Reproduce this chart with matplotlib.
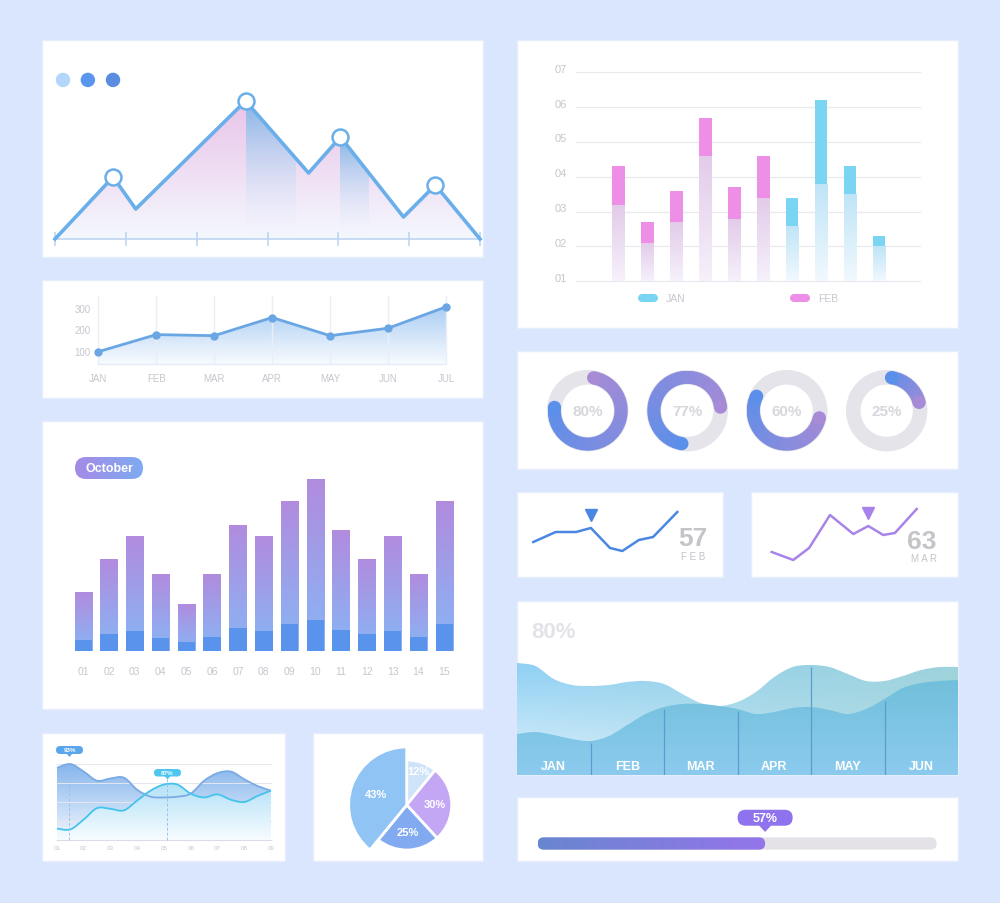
import numpy as np
import matplotlib
matplotlib.use('Agg')
import matplotlib.pyplot as plt
from matplotlib.colors import LinearSegmentedColormap, to_rgb
from matplotlib.patches import Circle, FancyBboxPatch, PathPatch, Polygon, Rectangle, Wedge
from matplotlib.path import Path

W, H = 1000, 904
BG = '#d9e6fd'
GREY = '#c6c6ce'

# ---- values ----
# mountain panel
peak_x = [0, 0.82, 1.14, 2.69, 3.58, 4.03, 4.92, 5.37, 6.0]
peak_y = [0, 31, 15, 69, 33, 51, 11, 27, 0]
peak_marks = [1, 3, 5, 7]
band_ends = [3.39, 4.43]
dot_colors = ['#b4d6fa', '#5b96ee', '#5a8ddf']

# monthly line
line_months = ['JAN', 'FEB', 'MAR', 'APR', 'MAY', 'JUN', 'JUL']
line_vals = [100, 180, 175, 260, 175, 210, 310]
line_ticks = [100, 200, 300]

# october bars
oct_days = ['01', '02', '03', '04', '05', '06', '07', '08', '09', '10', '11', '12', '13', '14', '15']
oct_total = [59, 92, 115, 77, 47, 77, 126, 115, 150, 172, 121, 92, 115, 77, 150]
oct_base = [11, 17, 20, 13, 9, 14, 23, 20, 27, 31, 21, 17, 20, 14, 27]

# small wave chart
wave_labels = ['01', '02', '03', '04', '05', '06', '07', '08', '09']
wave_x = [1, 1.5, 2, 2.5, 3, 3.5, 4, 4.5, 5, 5.5, 6, 6.5, 7, 7.5, 8, 8.5, 9]
wave_blue = [95, 100, 90, 78, 81, 82, 66, 57, 56, 57, 61, 78, 88, 90, 80, 71, 65]
wave_cyan = [15, 14, 27, 42, 41, 39, 52, 65, 73, 73, 61, 56, 60, 53, 50, 58, 65]
wave_guides = [(1.46, 98), (5.12, 80)]

# pie
pie_vals = [12, 30, 25, 43]
pie_labels = ['12%', '30%', '25%', '43%']
pie_colors = ['#cfe3fb', '#c3a7f5', '#82aaf0', '#90c4f5']

# stacked bars
bar_series = ['FEB'] * 6 + ['JAN'] * 4
bar_split = [3.2, 2.1, 2.7, 4.6, 2.8, 3.4, 2.6, 3.8, 3.5, 2.0]
bar_total = [4.3, 2.7, 3.6, 5.7, 3.7, 4.6, 3.4, 6.2, 4.3, 2.3]
bar_ticks = [1, 2, 3, 4, 5, 6, 7]

# donuts
donut_vals = [80, 77, 60, 25]
donut_start = [163, 272, 143, 93]
donut_dir = [1, -1, 1, -1]

# sparklines
spark1_x = [0, 1.02, 1.94, 2.62, 3.49, 4.05, 4.8, 5.45, 6.55]
spark1_y = [17, 27, 27, 31, 11, 8, 19, 22, 47]
spark2_x = [0, 0.98, 1.7, 2.65, 3.71, 4.39, 5.07, 5.6, 6.59]
spark2_y = [27, 19, 31, 64, 45, 53, 44, 46, 70]

# area waves
area_months = ['JAN', 'FEB', 'MAR', 'APR', 'MAY', 'JUN']
area_x = [0, 0.25, 0.5, 0.75, 1, 1.25, 1.5, 1.75, 2, 2.25, 2.5, 2.75, 3,
          3.25, 3.5, 3.75, 4, 4.25, 4.5, 4.75, 5, 5.25, 5.5, 5.75, 6]
area_back = [112, 109, 96, 90, 89, 90, 93, 94, 91, 81, 72, 69, 73, 83, 98, 108,
             110, 108, 101, 94, 94, 99, 105, 108, 108]
area_front = [41, 43, 40, 36, 34, 39, 50, 61, 68, 71, 71, 69, 66, 61, 63, 67,
              68, 65, 61, 66, 76, 87, 92, 94, 95]
divider_reach = ['front', 'front', 'front', 'back', 'front']

progress = 57

plt.rcParams['font.family'] = ['Liberation Sans', 'DejaVu Sans']
fig = plt.figure(figsize=(W / 100, H / 100), dpi=100, facecolor=BG)


def fit(a_lo, a_hi, p0, v0, p1, v1):
    s = (v1 - v0) / (p1 - p0)
    return v0 + (a_lo - p0) * s, v0 + (a_hi - p0) * s


def axes_px(x0, y0, x1, y1):
    ax = fig.add_axes([x0 / W, 1 - y1 / H, (x1 - x0) / W, (y1 - y0) / H])
    ax.set_axis_off()
    return ax


def panel(x0, y0, x1, y1):
    fig.add_artist(Rectangle((x0 / W, 1 - y1 / H), (x1 - x0) / W, (y1 - y0) / H,
                             transform=fig.transFigure, facecolor='white',
                             edgecolor='#e6eefd', lw=1, zorder=-1))
    return axes_px(x0, y0, x1, y1)


def grad(ax, clip, ext, c0, c1, horizontal=False, z=1):
    cmap = LinearSegmentedColormap.from_list('g', [c0, c1])
    g = np.linspace(0, 1, 256)
    g = g.reshape(1, -1) if horizontal else g.reshape(-1, 1)
    im = ax.imshow(g, cmap=cmap, extent=ext, origin='lower', aspect='auto',
                   interpolation='bilinear', zorder=z)
    if clip is not None:
        im.set_clip_path(clip)
    return im


def smooth(x, y, base=None):
    p = np.column_stack([x, y]).astype(float)
    verts, codes = [p[0]], [Path.MOVETO]
    for i in range(len(p) - 1):
        a = p[max(i - 1, 0)]
        b, c = p[i], p[i + 1]
        d = p[min(i + 2, len(p) - 1)]
        verts += [b + (c - a) / 6, c - (d - b) / 6, c]
        codes += [Path.CURVE4] * 3
    if base is not None:
        verts += [(x[-1], base), (x[0], base), (x[0], base)]
        codes += [Path.LINETO, Path.LINETO, Path.CLOSEPOLY]
    return Path(verts, codes)


def pill(x0, y0, x1, y1, c0, c1, text, size, tip=0):
    ax = axes_px(x0, y0, x1, y1 + tip)
    w, h = x1 - x0, y1 - y0
    box = FancyBboxPatch((0, tip), w, h, boxstyle=f'round,pad=0,rounding_size={h / 2}',
                         fc='none', ec='none')
    ax.add_patch(box)
    grad(ax, box, [0, w, tip, tip + h], c0, c1, horizontal=True)
    if tip:
        ax.add_patch(Polygon([(w / 2 - tip, tip + 0.5), (w / 2 + tip, tip + 0.5), (w / 2, 0)],
                             color=c1, lw=0))
    ax.text(w / 2, tip + h / 2, text, color='white', fontsize=size, weight='bold',
            ha='center', va='center')
    ax.set_xlim(0, w)
    ax.set_ylim(0, h + tip)


# ---- mountain ----
ax = panel(42, 41, 483, 258)
mx, my = np.array(peak_x), np.array(peak_y)
hill = Polygon(np.column_stack([mx, my]), closed=True, fc='none', ec='none')
ax.add_patch(hill)
grad(ax, hill, [0, 6, 0, 70], '#f5f8fe', '#e8c3e8')
for i, end in zip(peak_marks[1:3], band_ends):
    grad(ax, hill, [mx[i], end, 0, my[i]], (0.94, 0.97, 1.0, 0.0), '#84b6e7', z=2)
ax.plot([0, 6], [0, 0], color='#bdd5f1', lw=1.2, zorder=3)
ax.vlines(range(7), -3.5, 3.5, color='#bdd5f1', lw=1.2, zorder=3)
ax.plot(mx, my, color='#6aaeea', lw=2.6, zorder=4)
ax.plot(mx[peak_marks], my[peak_marks], 'o', ms=11.5, mfc='white', mec='#6aaeea',
        mew=1.8, zorder=5)
ax.scatter([0.0476, 0.104, 0.161], [0.816] * 3, s=88, c=dot_colors,
           transform=ax.transAxes, zorder=5)
ax.set_xlim(fit(42, 483, 55, 0, 480, 6))
ax.set_ylim(fit(258, 41, 240, 0, 60, 90))

# ---- monthly line ----
ax = panel(42, 281, 483, 399)
lx, ly = np.arange(len(line_vals)), np.array(line_vals)
ax.vlines(lx, 42, 366, color='#eceef5', lw=1)
ax.plot([0, 6], [42, 42], color='#e3ebf8', lw=1)
area = Polygon([(0, 42), *zip(lx, ly), (6, 42)], closed=True, fc='none', ec='none')
ax.add_patch(area)
grad(ax, area, [0, 6, 42, 310], '#f8fbff', '#aacdf2')
ax.plot(lx, ly, color='#6aa6e4', lw=2, marker='o', ms=5, zorder=4)
for v in line_ticks:
    ax.text(-0.13, v, str(v), ha='right', va='center', fontsize=7, color=GREY)
for x, m in zip(lx, line_months):
    ax.text(x, -23, m, ha='center', va='center', fontsize=7, color=GREY)
ax.set_xlim(fit(42, 483, 98.3, 0, 446, 6))
ax.set_ylim(fit(399, 281, 352.7, 100, 310, 300))

# ---- october bars ----
ax = panel(42, 422, 483, 710)
bx = np.arange(1, len(oct_total) + 1)
bars = ax.bar(bx, oct_total, width=0.68, color='none')
for x, b, h in zip(bx, bars, oct_total):
    grad(ax, b, [x - 0.34, x + 0.34, 0, h], '#88b6f5', '#b18bde')
ax.bar(bx, oct_base, width=0.68, color='#5a93ec', zorder=2)
for x, d in zip(bx, oct_days):
    ax.text(x, -20, d, ha='center', va='center', fontsize=7.5, color=GREY)
ax.set_xlim(fit(42, 483, 83.3, 1, 444.3, 15))
ax.set_ylim(fit(710, 422, 651.7, 0, 479.3, 172.4))
pill(75, 458, 143, 480, '#a58ae6', '#7eabf1', 'October', 9)

# ---- small waves ----
ax = panel(42, 734, 285, 862)
ax.hlines([25, 50, 75, 100], 0.95, 9.05, color='#e6e6ee', lw=0.7)
ax.hlines(0, 0.95, 9.05, color='#dcdce6', lw=0.8)
blue_fill = PathPatch(smooth(wave_x, wave_blue, base=0), fc='none', ec='none')
ax.add_patch(blue_fill)
grad(ax, blue_fill, [0.9, 9.1, 0, 100], '#f2f7fe', '#86b5ec', z=1)
cyan_fill = PathPatch(smooth(wave_x, wave_cyan, base=0), fc='none', ec='none')
ax.add_patch(cyan_fill)
grad(ax, cyan_fill, [0.9, 9.1, 0, 75], '#f7fcff', '#b2e1f7', z=2)
ax.add_patch(PathPatch(smooth(wave_x, wave_blue), fc='none', ec='#7aaae4', lw=1.3, zorder=3))
ax.add_patch(PathPatch(smooth(wave_x, wave_cyan), fc='none', ec='#45c3ec', lw=1.3, zorder=4))
for gx, gy in wave_guides:
    ax.vlines(gx, 0, gy, color='#9dc2e8', lw=0.7, linestyles=(0, (3, 2)), zorder=5)
for i, lab in enumerate(wave_labels):
    ax.text(i + 1, -9.5, lab, ha='center', va='center', fontsize=4.5, color=GREY)
ax.set_xlim(fit(42, 285, 57, 1, 271, 9))
ax.set_ylim(fit(862, 734, 841, 0, 765, 100))
pill(56, 747, 83, 755, '#5aa6ec', '#5aa6ec', '93%', 4.5, tip=3)
pill(154, 770, 181, 777.5, '#4ec6ee', '#4ec6ee', '87%', 4.5, tip=3)

# ---- pie ----
panel(313, 734, 483, 862)
ax = axes_px(346.7, 746, 466.7, 866)
wedges, _ = ax.pie(pie_vals, colors=pie_colors, startangle=90, counterclock=False,
                   wedgeprops=dict(edgecolor='white', linewidth=2))
wedges[3].set_radius(1.29)
for w, lab, d in zip(wedges, pie_labels, [0.8, 0.62, 0.6, 0.72]):
    a = np.deg2rad((w.theta1 + w.theta2) / 2)
    ax.text(d * np.cos(a), d * np.sin(a), lab, ha='center', va='center',
            fontsize=8, weight='bold', color='white')
ax.set_xlim(-1.333, 1.333)
ax.set_ylim(-1.333, 1.333)

# ---- stacked bars ----
ax = panel(517, 41, 958, 329)
sx = np.arange(1, len(bar_total) + 1)
top_col = {'FEB': '#ee8fe7', 'JAN': '#7ad5f3'}
low_col = {'FEB': ('#f6f1fb', '#e2cbe9'), 'JAN': ('#f1f9fe', '#bfe4f6')}
for v in bar_ticks:
    ax.plot([-0.46, 11.41], [v, v], color='#ebe9f0', lw=0.9, zorder=0)
    ax.text(-0.98, v + 0.1, f'{v:02d}', ha='center', va='center', fontsize=8, color=GREY)
split = np.array(bar_split)
lower = ax.bar(sx, split - 1, bottom=1, width=0.44, color='none')
for x, b, s, ser in zip(sx, lower, split, bar_series):
    grad(ax, b, [x - 0.22, x + 0.22, 1, s], *low_col[ser])
ax.bar(sx, np.array(bar_total) - split, bottom=split, width=0.44,
       color=[top_col[s] for s in bar_series], zorder=2)
for name, cx in [('JAN', 2.03), ('FEB', 7.27)]:
    ax.plot([cx - 0.2, cx + 0.2], [0.52, 0.52], color=top_col[name], lw=5.8,
            solid_capstyle='round')
    ax.text(cx + 0.62, 0.52, name, ha='left', va='center', fontsize=7.5, color=GREY)
ax.set_xlim(fit(517, 958, 618.3, 1, 879, 10))
ax.set_ylim(fit(329, 41, 282.3, 1, 73.3, 7))

# ---- donuts ----
panel(517, 352, 958, 470)
ring = LinearSegmentedColormap.from_list('ring', ['#5a8fea', '#a78bd6'])
cap = np.rad2deg(0.165 / 0.835)
gx, gy = np.meshgrid(np.linspace(-1, 1, 300), np.linspace(-1, 1, 300))
ang = np.degrees(np.arctan2(gy, gx))
for cx, val, st, dr in zip([587.7, 687.3, 786.7, 886.7], donut_vals, donut_start, donut_dir):
    ax = axes_px(cx - 45, 411.7 - 45, cx + 45, 411.7 + 45)
    ax.add_patch(Wedge((0, 0), 1, 0, 360, width=0.33, color='#e4e4ea'))
    span = val * 3.6
    a0, a1 = st + dr * cap, st + dr * (span - cap)
    arc = Wedge((0, 0), 1, min(a0, a1), max(a0, a1), width=0.33, fc='none', ec='none')
    ax.add_patch(arc)
    tt = np.clip((((ang - st) * dr) % 360) / span, 0, 1)
    im = ax.imshow(ring(tt), extent=[-1, 1, -1, 1], origin='lower', interpolation='bilinear',
                   zorder=2)
    im.set_clip_path(arc)
    for a, t in [(a0, 0.0), (a1, 1.0)]:
        r = np.deg2rad(a)
        ax.add_patch(Circle((0.835 * np.cos(r), 0.835 * np.sin(r)), 0.165, color=ring(t),
                            lw=0, zorder=3))
    ax.text(0, 0, f'{val}%', ha='center', va='center', fontsize=11, weight='bold',
            color='#d6d6dc')
    ax.set_xlim(-1.125, 1.125)
    ax.set_ylim(-1.125, 1.125)

# ---- sparklines ----
ax = panel(517, 493, 723, 578)
ax.plot(spark1_x, spark1_y, color='#4a87e2', lw=1.8)
ax.plot(spark1_x[3], spark1_y[3] + 13.5, 'v', ms=9, color='#4a87e2')
ax.text(7.26, 21, '57', ha='center', va='center', fontsize=19, weight='bold', color='#c4c4c9')
ax.text(7.26, 3.3, 'F E B', ha='center', va='center', fontsize=7, color='#c4c4c9')
ax.set_xlim(fit(517, 723, 533.3, 0, 677.3, 6.55))
ax.set_ylim(fit(578, 493, 560, 0, 460, 100))

ax = panel(751, 493, 958, 578)
ax.plot(spark2_x, spark2_y, color='#a884e8', lw=1.8)
ax.plot(spark2_x[5], spark2_y[5] + 13.5, 'v', ms=9, color='#a682ea')
ax.text(6.84, 38.3, '63', ha='center', va='center', fontsize=19, weight='bold', color='#c4c4c9')
ax.text(6.92, 21, 'M A R', ha='center', va='center', fontsize=7, color='#c4c4c9')
ax.set_xlim(fit(751, 958, 771.7, 0, 916.7, 6.59))
ax.set_ylim(fit(578, 493, 580, 0, 480, 100))

# ---- area waves ----
ax = panel(517, 602, 958, 776)
back = PathPatch(smooth(area_x, area_back, base=0), fc='none', ec='none')
ax.add_patch(back)
t = np.linspace(0, 1, 64)[None, :, None]
s = np.linspace(0, 1, 64)[:, None, None]
tl, tr, bl, br = (np.array(to_rgb(c)) for c in ('#8ccff4', '#9dd3db', '#e0f2fc', '#b3dce5'))
img = (1 - s) * ((1 - t) * bl + t * br) + s * ((1 - t) * tl + t * tr)
im = ax.imshow(img, extent=[0, 6, 0, 115], origin='lower', aspect='auto',
               interpolation='bilinear', zorder=1)
im.set_clip_path(back)
front = PathPatch(smooth(area_x, area_front, base=0), fc='none', ec='none')
ax.add_patch(front)
grad(ax, front, [0, 6, 0, 96], '#8ccbee', '#70bfdb', z=2)
for i, reach in enumerate(divider_reach):
    top = np.interp(i + 1, area_x, area_front if reach == 'front' else area_back)
    ax.vlines(i + 1, 0, top - 2, color='#5a9ccd', lw=0.9, zorder=4)
for i, m in enumerate(area_months):
    ax.text(i + 0.5, 9, m, ha='center', va='center', fontsize=9, weight='bold',
            color='white', zorder=5)
ax.text(0.49, 143, '80%', ha='center', va='center', fontsize=16, weight='bold',
        color='#e2e2e8')
ax.set_xlim(0, 6)
ax.set_ylim(0, 174)

# ---- progress ----
ax = panel(517, 798, 958, 862)
ax.add_patch(FancyBboxPatch((0, -1.54), 100, 3.08, boxstyle='round,pad=0,rounding_size=1.54',
                            fc='#e4e2e7', ec='none'))
done = FancyBboxPatch((0, -1.54), progress, 3.08, boxstyle='round,pad=0,rounding_size=1.54',
                      fc='none', ec='none')
ax.add_patch(done)
grad(ax, done, [0, progress, -1.54, 1.54], '#6886cf', '#9575ea', horizontal=True, z=2)
ax.add_patch(FancyBboxPatch((progress - 6.9, 4.46), 13.8, 4.0,
                            boxstyle='round,pad=0,rounding_size=2.0', fc='#8f72ee', ec='none'))
ax.add_patch(Polygon([(progress - 1.6, 4.6), (progress + 1.6, 4.6), (progress, 2.9)],
                     color='#8f72ee', lw=0))
ax.text(progress, 6.46, f'{progress}%', ha='center', va='center', fontsize=9,
        weight='bold', color='white')
ax.set_xlim(fit(517, 958, 537.7, 0, 936.7, 100))
ax.set_ylim(fit(862, 798, 844.5, 0, 840.51, 1))

fig.savefig('out.png', dpi=100, facecolor=BG)
